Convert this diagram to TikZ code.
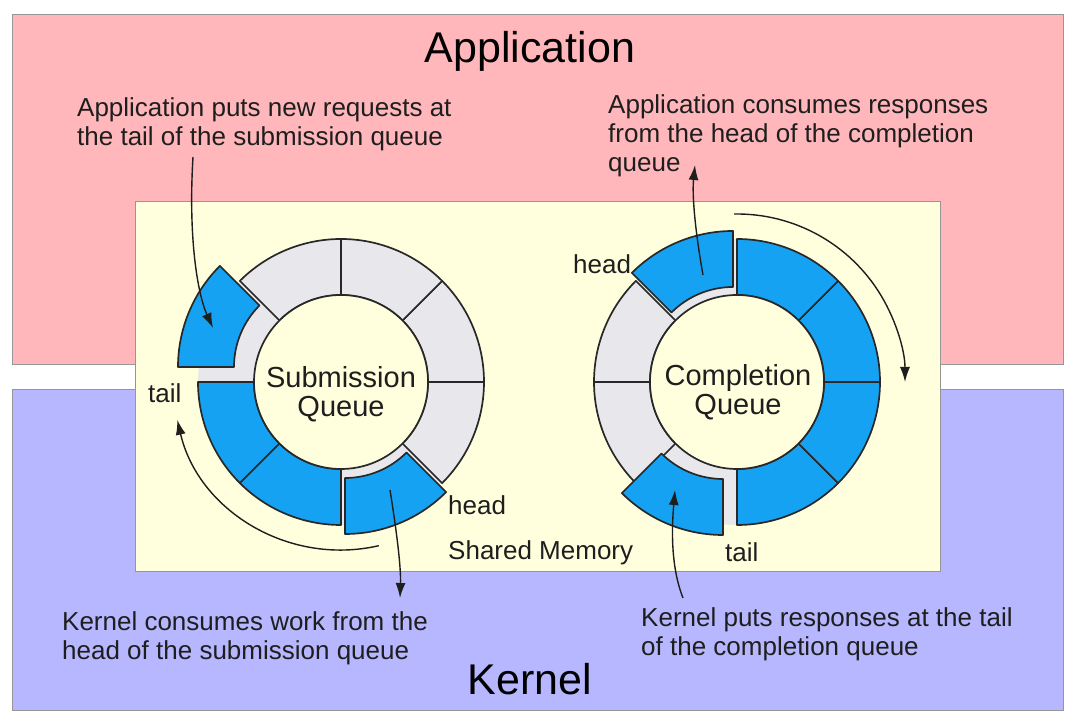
\documentclass[tikz,border=0pt]{standalone}
\usepackage{fontspec}
\setmainfont{Liberation Sans}
\usetikzlibrary{arrows.meta,calc}
\definecolor{appc}{RGB}{255,183,187}
\definecolor{kerc}{RGB}{183,183,255}
\definecolor{memc}{RGB}{255,255,222}
\definecolor{bluec}{RGB}{22,162,242}
\definecolor{greyc}{RGB}{232,232,236}
\definecolor{linec}{RGB}{40,40,40}
\definecolor{txtc}{RGB}{30,30,30}
\definecolor{boxline}{RGB}{150,150,150}
\newcommand{\ringseg}[3]{\filldraw[#3] (#1:87) -- (#1:143) arc[start angle=#1, end angle=#2, radius=143] -- (#2:87) arc[start angle=#2, end angle=#1, radius=87] -- cycle;}
\begin{document}
\begin{tikzpicture}[x=1pt,y=1pt,
  seg/.style={draw=linec,line width=1.7pt,line join=round},
  blueseg/.style={seg,fill=bluec},
  greyseg/.style={seg,fill=greyc},
  slot/.style={fill=greyc,draw=none},
  region/.style={draw=boxline,line width=0.8pt,inner sep=0pt,outer sep=0pt,anchor=south west},
  body/.style={font=\fontsize{26}{29}\selectfont,text=txtc,inner sep=0pt,align=left,anchor=north west},
  lbl/.style={font=\fontsize{26}{29}\selectfont,text=txtc,inner sep=0pt,anchor=base west},
  title/.style={font=\fontsize{43}{50}\selectfont,text=black,inner sep=0pt,anchor=base},
  qlabel/.style={font=\fontsize{29}{29}\selectfont,text=txtc,inner sep=0pt,align=center,anchor=north},
  inner/.style={circle,draw=linec,line width=1.7pt,fill=memc,minimum size=174pt,inner sep=0pt},
  arr/.style={draw=txtc,line width=1.4pt,-{Latex[length=15pt,width=10pt]}}]
\useasboundingbox (0,0) rectangle (1080,725);
\fill[white] (0,0) rectangle (1080,725);
% regions
\node[region,fill=appc,minimum width=1051pt,minimum height=350pt] (app) at (12,361) {};
\node[region,fill=kerc,minimum width=1051pt,minimum height=321pt] (kern) at (12,15) {};
\node[region,fill=memc,minimum width=805pt,minimum height=370pt] (mem) at (135,154) {};
% titles
\node[title] (apptitle) at (530,662) {Application};
\node[title] (kerntitle) at (530,30) {Kernel};
% submission ring
\coordinate (S) at (341,343);
\begin{scope}[shift={(S)}]
  \ringseg{135}{180}{slot}
  \ringseg{270}{315}{slot}
  \ringseg{315}{360}{greyseg}
  \ringseg{0}{45}{greyseg}
  \ringseg{45}{90}{greyseg}
  \ringseg{90}{135}{greyseg}
  \ringseg{180}{225}{blueseg}
  \ringseg{225}{270}{blueseg}
  \node[inner] (sq) at (0,0) {};
  \begin{scope}[shift={(-20,15)}]
    \ringseg{135}{180}{blueseg}
  \end{scope}
  \begin{scope}[shift={(4,-9)}]
    \ringseg{270}{315}{blueseg}
  \end{scope}
\end{scope}
\node[qlabel] (sqlabel) at (341,360) {\rule{0pt}{22pt}Submission\\Queue};
% completion ring
\coordinate (C) at (737,343);
\begin{scope}[shift={(C)}]
  \ringseg{90}{135}{slot}
  \ringseg{225}{270}{slot}
  \ringseg{135}{180}{greyseg}
  \ringseg{180}{225}{greyseg}
  \ringseg{0}{45}{blueseg}
  \ringseg{45}{90}{blueseg}
  \ringseg{270}{315}{blueseg}
  \ringseg{315}{360}{blueseg}
  \node[inner] (cq) at (0,0) {};
  \begin{scope}[shift={(-4,8)}]
    \ringseg{90}{135}{blueseg}
  \end{scope}
  \begin{scope}[shift={(-14,-10)}]
    \ringseg{225}{270}{blueseg}
  \end{scope}
\end{scope}
\node[qlabel] (cqlabel) at (738,362) {\rule{0pt}{22pt}Completion\\Queue};
% texts
\node[body] (t1) at (77,629) {\rule{0pt}{20pt}Application puts new requests at\\the tail of the submission queue};
\node[body] (t2) at (608,632) {\rule{0pt}{20pt}Application consumes responses\\from the head of the completion\\queue};
\node[body] (t3) at (62,115) {\rule{0pt}{20pt}Kernel consumes work from the\\head of the submission queue};
\node[body] (t4) at (641,119) {\rule{0pt}{20pt}Kernel puts responses at the tail\\of the completion queue};
\node[lbl] (stail) at (148,322) {tail};
\node[lbl] (shead) at (448,210) {head};
\node[lbl] (chead) at (573,451) {head};
\node[lbl] (ctail) at (725,163) {tail};
\node[lbl] (memlbl) at (448,165) {Shared Memory};
% arrows
\coordinate (a1s) at (193,568); \coordinate (a1e) at (213,397);
\draw[arr] (a1s) .. controls (188,485) and (198,430) .. (a1e);
\draw[arr] ($(S)+(-77:168)$) coordinate (a2s) arc[start angle=-77, end angle=-167, radius=168];
\coordinate (a3s) at (390,235); \coordinate (a3e) at (400,127);
\draw[arr] (a3s) .. controls (398,185) and (401,155) .. (a3e);
\coordinate (a4s) at (703,450); \coordinate (a4e) at (695,560);
\draw[arr] (a4s) .. controls (695,495) and (692,530) .. (a4e);
\draw[arr] ($(C)+(91:168)$) coordinate (a5s) arc[start angle=91, end angle=0, radius=168];
\coordinate (a6s) at (683,127); \coordinate (a6e) at (675,235);
\draw[arr] (a6s) .. controls (670,160) and (672,200) .. (a6e);
\end{tikzpicture}
\end{document}
